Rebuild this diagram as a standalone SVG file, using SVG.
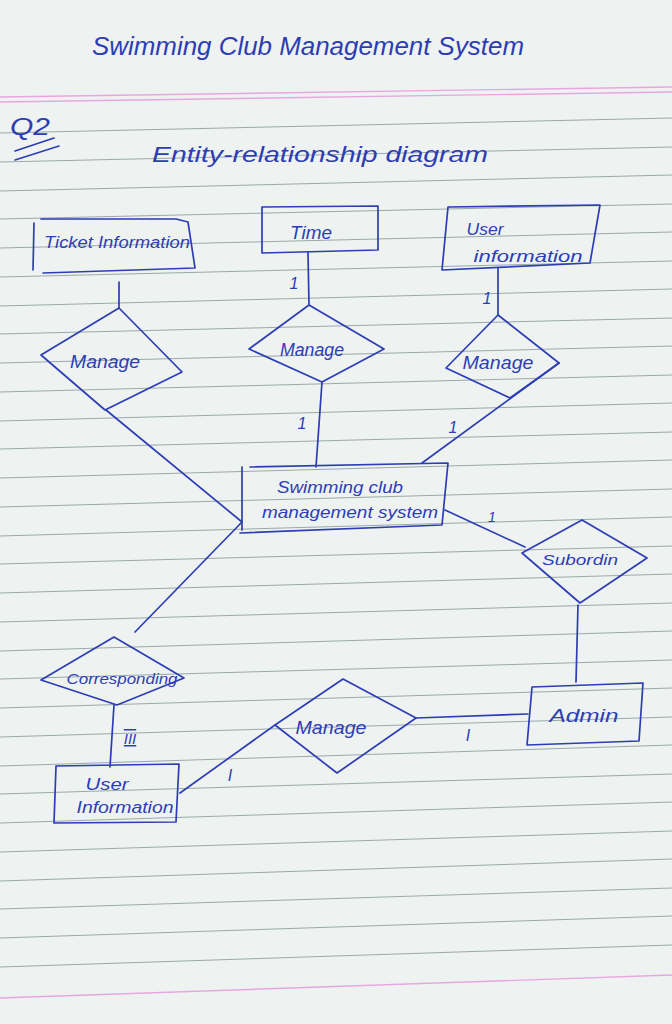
<svg xmlns="http://www.w3.org/2000/svg" width="672" height="1024" viewBox="0 0 672 1024">
<style>
.pen{fill:none;stroke:#2d3db4;stroke-width:1.7;stroke-linecap:round;stroke-linejoin:round}
.t{font-family:"Liberation Sans","DejaVu Sans",sans-serif;font-style:italic;fill:#2d3db4;text-anchor:middle}
.rule{stroke:#7f8f92;stroke-width:1;opacity:0.75}
.pink{stroke:#e8a6e0;stroke-width:1.4}
</style>
<rect x="0" y="0" width="672" height="1024" fill="#eef3f2"/>
<g id="paper-lines">
<line class="pink" x1="0" y1="97" x2="672" y2="87"/>
<line class="pink" x1="0" y1="102" x2="672" y2="92"/>
<line class="rule" x1="0" y1="133" x2="672" y2="118"/>
<line class="rule" x1="0" y1="162" x2="672" y2="147"/>
<line class="rule" x1="0" y1="191" x2="672" y2="175"/>
<line class="rule" x1="0" y1="219" x2="672" y2="204"/>
<line class="rule" x1="0" y1="248" x2="672" y2="232"/>
<line class="rule" x1="0" y1="277" x2="672" y2="261"/>
<line class="rule" x1="0" y1="306" x2="672" y2="289"/>
<line class="rule" x1="0" y1="334" x2="672" y2="318"/>
<line class="rule" x1="0" y1="363" x2="672" y2="346"/>
<line class="rule" x1="0" y1="392" x2="672" y2="375"/>
<line class="rule" x1="0" y1="421" x2="672" y2="403"/>
<line class="rule" x1="0" y1="449" x2="672" y2="432"/>
<line class="rule" x1="0" y1="478" x2="672" y2="460"/>
<line class="rule" x1="0" y1="507" x2="672" y2="489"/>
<line class="rule" x1="0" y1="536" x2="672" y2="517"/>
<line class="rule" x1="0" y1="564" x2="672" y2="546"/>
<line class="rule" x1="0" y1="593" x2="672" y2="574"/>
<line class="rule" x1="0" y1="622" x2="672" y2="603"/>
<line class="rule" x1="0" y1="651" x2="672" y2="631"/>
<line class="rule" x1="0" y1="679" x2="672" y2="660"/>
<line class="rule" x1="0" y1="708" x2="672" y2="688"/>
<line class="rule" x1="0" y1="737" x2="672" y2="717"/>
<line class="rule" x1="0" y1="766" x2="672" y2="745"/>
<line class="rule" x1="0" y1="794" x2="672" y2="774"/>
<line class="rule" x1="0" y1="823" x2="672" y2="802"/>
<line class="rule" x1="0" y1="852" x2="672" y2="831"/>
<line class="rule" x1="0" y1="881" x2="672" y2="859"/>
<line class="rule" x1="0" y1="909" x2="672" y2="888"/>
<line class="rule" x1="0" y1="938" x2="672" y2="916"/>
<line class="rule" x1="0" y1="967" x2="672" y2="945"/>
<line class="pink" x1="0" y1="998" x2="672" y2="975"/>
</g>
<g id="headings">
<text class="t" x="308" y="55" font-size="25" textLength="432" lengthAdjust="spacingAndGlyphs">Swimming Club Management System</text>
<text class="t" x="30" y="135" font-size="24" textLength="40" lengthAdjust="spacingAndGlyphs">Q2</text>
<path class="pen" d="M15 151 L54 138 M15 160 L59 146"/>
<text class="t" x="320" y="162" font-size="22" textLength="336" lengthAdjust="spacingAndGlyphs">Entity-relationship diagram</text>
</g>
<g id="connectors">
<path class="pen" d="M119 282 L119 308"/>
<path class="pen" d="M106 410 L242 522"/>
<path class="pen" d="M308 252 L309 305"/>
<path class="pen" d="M322 382 L316 467"/>
<path class="pen" d="M498 268 L498 315"/>
<path class="pen" d="M559 363 L422 463"/>
<path class="pen" d="M445 510 L525 547"/>
<path class="pen" d="M578 605 L576 682"/>
<path class="pen" d="M242 522 L135 632"/>
<path class="pen" d="M114 705 L110 767"/>
<path class="pen" d="M180 793 L275 725"/>
<path class="pen" d="M416 718 L528 714"/>
<text class="t" x="294" y="289" font-size="16">1</text>
<text class="t" x="302" y="429" font-size="16">1</text>
<text class="t" x="487" y="304" font-size="16">1</text>
<text class="t" x="453" y="433" font-size="16">1</text>
<text class="t" x="492" y="522" font-size="14">1</text>
<text class="t" x="130" y="744" font-size="15" text-decoration="overline underline">III</text>
<text class="t" x="230" y="781" font-size="16">I</text>
<text class="t" x="468" y="741" font-size="16">I</text>
</g>
<g id="ticket-information">
<path class="pen" d="M34 223 L33 270 M41 219 L176 219 M43 273 L195 268 M188 222 L195 268 M176 219 L188 222"/>
<text class="t" x="117" y="248" font-size="16" textLength="146" lengthAdjust="spacingAndGlyphs">Ticket Information</text>
</g>
<g id="time">
<path class="pen" d="M262 207 L378 206 L378 250 L262 253 Z"/>
<text class="t" x="311" y="239" font-size="18" textLength="42" lengthAdjust="spacingAndGlyphs">Time</text>
</g>
<g id="user-information-top">
<path class="pen" d="M448 207 L600 205 L590 263 L442 270 Z"/>
<text class="t" x="485" y="235" font-size="17" textLength="37" lengthAdjust="spacingAndGlyphs">User</text>
<text class="t" x="528" y="262" font-size="17" textLength="109" lengthAdjust="spacingAndGlyphs">information</text>
</g>
<g id="manage-ticket">
<polygon class="pen" points="119,308 182,372 105,410 41,355"/>
<text class="t" x="105" y="368" font-size="18" textLength="70" lengthAdjust="spacingAndGlyphs">Manage</text>
</g>
<g id="manage-time">
<polygon class="pen" points="309,305 384,349 322,382 249,349"/>
<text class="t" x="312" y="356" font-size="18" textLength="64" lengthAdjust="spacingAndGlyphs">Manage</text>
</g>
<g id="manage-user">
<polygon class="pen" points="498,315 559,363 510,398 446,368"/>
<text class="t" x="498" y="369" font-size="18" textLength="71" lengthAdjust="spacingAndGlyphs">Manage</text>
</g>
<g id="swimming-club-management-system">
<path class="pen" d="M250 467 L448 463 L442 525 L240 533 M242 467 L242 530"/>
<text class="t" x="340" y="493" font-size="17" textLength="126" lengthAdjust="spacingAndGlyphs">Swimming club</text>
<text class="t" x="350" y="518" font-size="17" textLength="176" lengthAdjust="spacingAndGlyphs">management system</text>
</g>
<g id="subordin">
<polygon class="pen" points="582,520 647,558 580,603 522,553"/>
<text class="t" x="580" y="565" font-size="15" textLength="76" lengthAdjust="spacingAndGlyphs">Subordin</text>
</g>
<g id="corresponding">
<polygon class="pen" points="114,637 184,678 117,705 41,680"/>
<text class="t" x="122" y="684" font-size="15" textLength="111" lengthAdjust="spacingAndGlyphs">Corresponding</text>
</g>
<g id="user-information-bottom">
<path class="pen" d="M56 766 L179 764 L176 822 L54 823 Z"/>
<text class="t" x="107" y="790" font-size="16" textLength="43" lengthAdjust="spacingAndGlyphs">User</text>
<text class="t" x="125" y="813" font-size="16" textLength="97" lengthAdjust="spacingAndGlyphs">Information</text>
</g>
<g id="manage-admin">
<polygon class="pen" points="343,679 416,718 337,773 275,725"/>
<text class="t" x="331" y="734" font-size="18" textLength="71" lengthAdjust="spacingAndGlyphs">Manage</text>
</g>
<g id="admin">
<path class="pen" d="M532 687 L643 683 L639 741 L527 745 Z"/>
<text class="t" x="584" y="722" font-size="18" textLength="69" lengthAdjust="spacingAndGlyphs">Admin</text>
</g>
</svg>
